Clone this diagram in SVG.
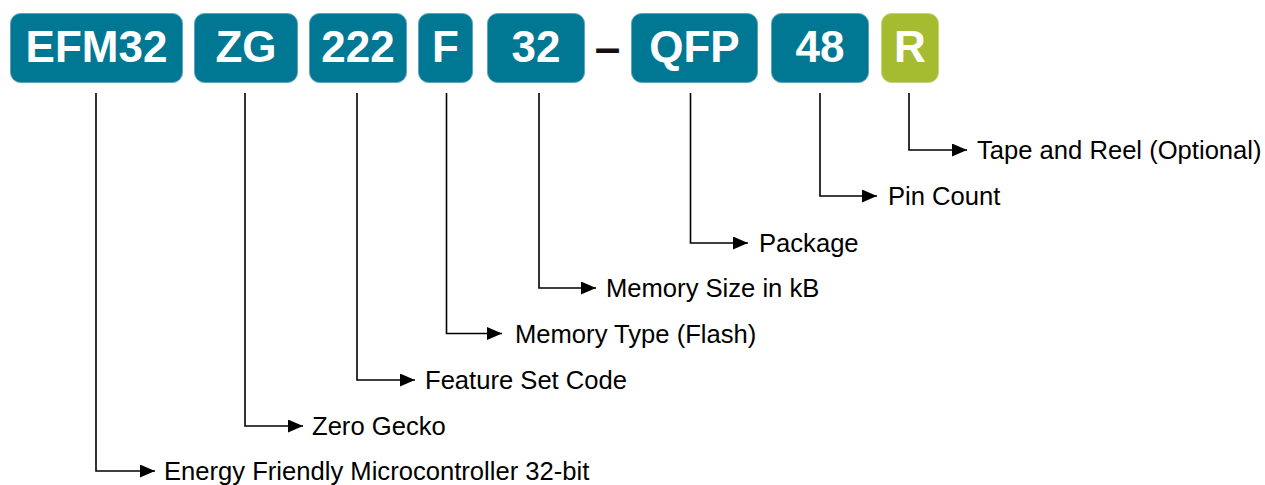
<svg xmlns="http://www.w3.org/2000/svg" width="1265" height="485" viewBox="0 0 1265 485">
<style>
.box{fill:#017893;stroke:#5aa7bb;stroke-width:1}
.opt{fill:#a5bc31;stroke:#c4d47a;stroke-width:1}
.code{font-family:"Liberation Sans",Arial,sans-serif;font-weight:bold;font-size:44px;fill:#ffffff;text-anchor:middle}
.dash{font-family:"Liberation Sans",Arial,sans-serif;font-weight:bold;font-size:46px;fill:#111111;text-anchor:middle}
.lbl{font-family:"Liberation Sans",Arial,sans-serif;font-size:25.6px;fill:#000000}
.conn{fill:none;stroke:#000000;stroke-width:1.6}
</style>
<defs>
<marker id="arr" viewBox="0 0 15 13" refX="15" refY="6.5" markerWidth="15" markerHeight="13" markerUnits="userSpaceOnUse" orient="auto">
<path d="M0,0 L15,6.5 L0,13 Z" fill="#000000"/>
</marker>
</defs>
<rect width="1265" height="485" fill="#ffffff"/>
<g id="n-efm32"><rect class="box" x="10.5" y="13.5" width="172" height="69" rx="10"/><text class="code" x="96.5" y="62">EFM32</text></g>
<g id="n-zg"><rect class="box" x="194.5" y="13.5" width="103" height="69" rx="10"/><text class="code" x="246" y="62">ZG</text></g>
<g id="n-222"><rect class="box" x="309.5" y="13.5" width="97" height="69" rx="10"/><text class="code" x="358" y="62">222</text></g>
<g id="n-f"><rect class="box" x="418.5" y="13.5" width="54" height="69" rx="10"/><text class="code" x="445.5" y="62">F</text></g>
<g id="n-32"><rect class="box" x="487.5" y="13.5" width="97" height="69" rx="10"/><text class="code" x="536" y="62">32</text></g>
<g id="n-dash"><text class="dash" x="607.5" y="63">–</text></g>
<g id="n-qfp"><rect class="box" x="631.5" y="13.5" width="126" height="69" rx="10"/><text class="code" x="694.5" y="62">QFP</text></g>
<g id="n-48"><rect class="box" x="771.5" y="13.5" width="97" height="69" rx="10"/><text class="code" x="820" y="62">48</text></g>
<g id="n-r"><rect class="opt" x="881.5" y="13.5" width="57" height="69" rx="10"/><text class="code" x="910" y="62">R</text></g>
<g id="connectors">
<path class="conn" d="M96,93 V471 H155" marker-end="url(#arr)"/>
<path class="conn" d="M245,93 V426 H303" marker-end="url(#arr)"/>
<path class="conn" d="M357,93 V380 H415" marker-end="url(#arr)"/>
<path class="conn" d="M446.5,93 V333.5 H502" marker-end="url(#arr)"/>
<path class="conn" d="M539,93 V288 H596" marker-end="url(#arr)"/>
<path class="conn" d="M690.5,93 V243 H748" marker-end="url(#arr)"/>
<path class="conn" d="M820,93 V196 H877" marker-end="url(#arr)"/>
<path class="conn" d="M909,93 V150 H967" marker-end="url(#arr)"/>
</g>
<g id="labels">
<text class="lbl" x="164" y="480">Energy Friendly Microcontroller 32-bit</text>
<text class="lbl" x="312" y="435">Zero Gecko</text>
<text class="lbl" x="425" y="389">Feature Set Code</text>
<text class="lbl" x="515" y="342.5">Memory Type (Flash)</text>
<text class="lbl" x="606" y="297">Memory Size in kB</text>
<text class="lbl" x="759" y="252">Package</text>
<text class="lbl" x="888" y="205">Pin Count</text>
<text class="lbl" x="977" y="159">Tape and Reel (Optional)</text>
</g>
</svg>
